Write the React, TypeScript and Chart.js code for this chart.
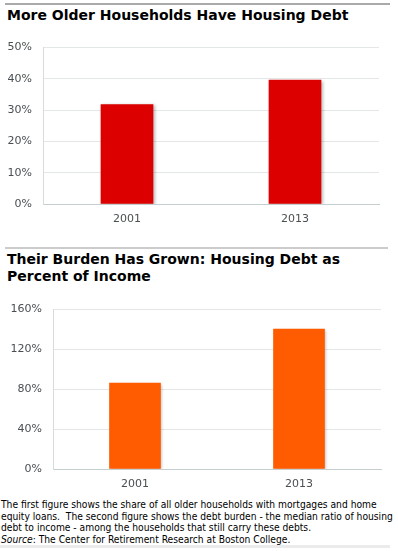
import React, { useEffect, useRef } from "react";
import { Chart, registerables } from "chart.js";

Chart.register(...registerables);

const categories = ["2001", "2013"];
const shareWithDebt = [31.8, 39.6];
const debtToIncome = [86, 140];
const shareAxisMax = 50;
const shareAxisStep = 10;
const burdenAxisMax = 160;
const burdenAxisStep = 40;

const title1 = "More Older Households Have Housing Debt";
const title2a = "Their Burden Has Grown: Housing Debt as";
const title2b = "Percent of Income";
const note =
  "The first figure shows the share of all older households with mortgages and home equity loans.\u00a0 The second figure shows the debt burden - the median ratio of housing debt to income - among the households that still carry these debts.";
const sourceLabel = "Source";
const sourceText = ": The Center for Retirement Research at Boston College.";

const FONT = "'DejaVu Sans', Verdana, sans-serif";

const shadowPlugin = {
  id: "barShadow",
  beforeDatasetsDraw(chart: any) {
    const c = chart.ctx;
    c.save();
    c.shadowColor = "rgba(0,0,0,0.28)";
    c.shadowOffsetX = 1.5;
    c.shadowOffsetY = 1;
    c.shadowBlur = 3;
  },
  afterDatasetsDraw(chart: any) {
    chart.ctx.restore();
  },
};

type Opts = {
  values: number[];
  color: string;
  max: number;
  step: number;
  yWidth: number;
  xHeight: number;
  padTop: number;
  padRight: number;
  barThickness: number;
  xPad: number;
  yPad: number;
};

function makeConfig(o: Opts): any {
  return {
    type: "bar",
    data: {
      labels: categories,
      datasets: [
        {
          data: o.values,
          backgroundColor: o.color,
          borderWidth: 0,
          barThickness: o.barThickness,
        },
      ],
    },
    plugins: [shadowPlugin],
    options: {
      responsive: false,
      animation: false,
      events: [],
      layout: {
        autoPadding: false,
        padding: { top: o.padTop, right: o.padRight, bottom: 0, left: 0 },
      },
      plugins: {
        legend: { display: false },
        tooltip: { enabled: false },
        title: { display: false },
      },
      scales: {
        x: {
          grid: { display: false, drawTicks: false },
          border: { display: true, color: "#c6cfd0", width: 1 },
          ticks: {
            color: "#4a4f52",
            font: { family: FONT, size: 11 },
            padding: o.xPad,
            maxRotation: 0,
          },
          afterFit: (s: any) => {
            s.height = o.xHeight;
          },
        },
        y: {
          min: 0,
          max: o.max,
          grid: { color: "#e3e7e7", lineWidth: 1, drawTicks: false },
          border: { display: true, color: "#d6dcdc", width: 1 },
          ticks: {
            stepSize: o.step,
            color: "#4a4f52",
            font: { family: FONT, size: 11 },
            padding: o.yPad,
            callback: (v: any) => v + "%",
          },
          afterFit: (s: any) => {
            s.width = o.yWidth;
          },
        },
      },
    },
  };
}

function BarChart(props: { opts: Opts; top: number; height: number }) {
  const ref = useRef<HTMLCanvasElement | null>(null);
  useEffect(() => {
    if (!ref.current) return;
    const chart = new Chart(ref.current, makeConfig(props.opts));
    return () => chart.destroy();
  }, []);
  return (
    <canvas
      ref={ref}
      width={398}
      height={props.height}
      style={{
        position: "absolute",
        left: 0,
        top: props.top,
        width: 398,
        height: props.height,
        display: "block",
      }}
    />
  );
}

export default function App() {
  const titleStyle: React.CSSProperties = {
    position: "absolute",
    left: 7,
    fontFamily: FONT,
    fontWeight: "bold",
    fontSize: 14,
    color: "#000",
    lineHeight: "17px",
    whiteSpace: "nowrap",
  };
  return (
    <div
      style={{
        position: "absolute",
        left: 0,
        top: 0,
        width: 398,
        height: 551,
        background: "#fff",
        overflow: "hidden",
      }}
    >
      <div style={{ position: "absolute", left: 5, top: 3, width: 385, height: 2, background: "#aaaaaa" }} />
      <div style={{ ...titleStyle, top: 7 }}>{title1}</div>
      <BarChart
        top={30}
        height={205}
        opts={{
          values: shareWithDebt,
          color: "#dd0000",
          max: shareAxisMax,
          step: shareAxisStep,
          yWidth: 43,
          xHeight: 31,
          padTop: 14,
          padRight: 19,
          barThickness: 52,
          xPad: 9,
          yPad: 11,
        }}
      />
      <div style={{ position: "absolute", left: 5, top: 247, width: 383, height: 2, background: "#cccccc" }} />
      <div style={{ ...titleStyle, top: 251 }}>
        {title2a}
        <br />
        {title2b}
      </div>
      <BarChart
        top={290}
        height={205}
        opts={{
          values: debtToIncome,
          color: "#ff5b00",
          max: burdenAxisMax,
          step: burdenAxisStep,
          yWidth: 53,
          xHeight: 26,
          padTop: 19,
          padRight: 17,
          barThickness: 51,
          xPad: 9,
          yPad: 11,
        }}
      />
      <div
        style={{
          position: "absolute",
          left: 1,
          top: 499,
          width: 397,
          fontFamily: "'DejaVu Sans Condensed', 'DejaVu Sans', sans-serif",
          fontSize: 10.2,
          lineHeight: "11.5px",
          color: "#000",
        }}
      >
        {note}
        <br />
        <i>{sourceLabel}</i>
        {sourceText}
      </div>
      <div style={{ position: "absolute", left: 0, top: 545, width: 390, height: 3, background: "#ebebeb" }} />
    </div>
  );
}
